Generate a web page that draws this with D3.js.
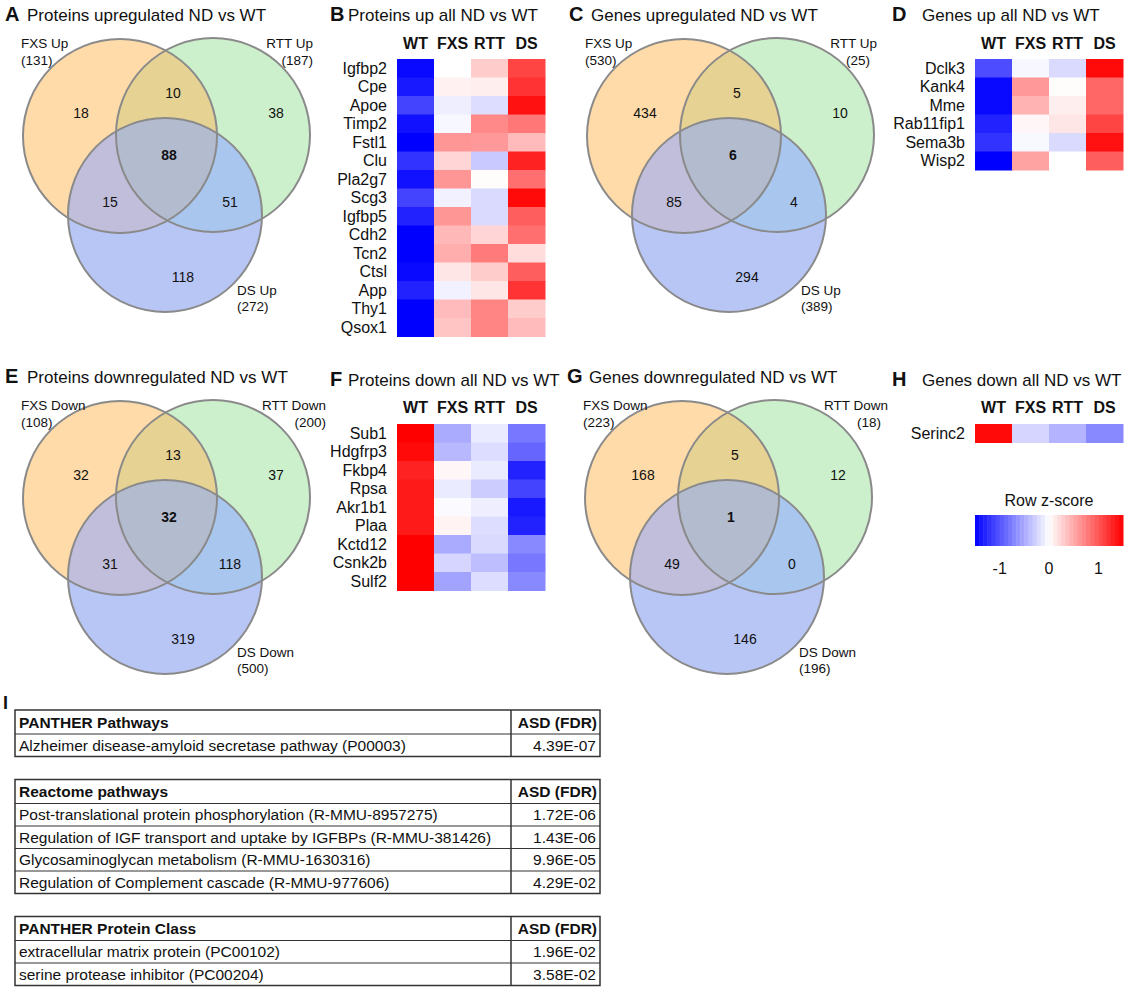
<!DOCTYPE html>
<html><head><meta charset="utf-8">
<script src="https://cdn.jsdelivr.net/npm/d3@7"></script>
<style>body{margin:0;background:#fff}svg text{font-family:Arial,"Liberation Sans",sans-serif;fill:#111}</style>
</head><body>
<svg id="fig" width="1128" height="989"></svg>
<script>
// ---------- DATA ----------
// Venn region order: [set1 only, 1∩2, set2 only, all three, 1∩3, 2∩3, set3 only]
const vennSetNames = ["FXS", "RTT", "DS"];
const protUpCounts = [18, 10, 38, 88, 15, 51, 118];
const protUpTotals = [131, 187, 272];
const geneUpCounts = [434, 5, 10, 6, 85, 4, 294];
const geneUpTotals = [530, 25, 389];
const protDownCounts = [32, 13, 37, 32, 31, 118, 319];
const protDownTotals = [108, 200, 500];
const geneDownCounts = [168, 5, 12, 1, 49, 0, 146];
const geneDownTotals = [223, 18, 196];

const heatCols = ["WT", "FXS", "RTT", "DS"];
const protUpGenes = ["Igfbp2","Cpe","Apoe","Timp2","Fstl1","Clu","Pla2g7","Scg3","Igfbp5","Cdh2","Tcn2","Ctsl","App","Thy1","Qsox1"];
const protUpZ = [
  [-1.45, 0.00, 0.30, 1.10],
  [-1.35, 0.08, 0.10, 1.20],
  [-1.10,-0.10,-0.20, 1.40],
  [-1.40,-0.05, 0.70, 0.80],
  [-1.50, 0.62, 0.60, 0.40],
  [-1.20, 0.25,-0.32, 1.30],
  [-1.40, 0.62, 0.02, 0.85],
  [-1.10,-0.08,-0.22, 1.45],
  [-1.30, 0.62,-0.22, 0.95],
  [-1.50, 0.42, 0.25, 0.85],
  [-1.50, 0.48, 0.78, 0.20],
  [-1.45, 0.15, 0.30, 0.95],
  [-1.30,-0.08, 0.15, 1.20],
  [-1.50, 0.40, 0.72, 0.30],
  [-1.50, 0.35, 0.72, 0.40]
];
const geneUpGenes = ["Dclk3","Kank4","Mme","Rab11fip1","Sema3b","Wisp2"];
const geneUpZ = [
  [-1.05,-0.05,-0.22, 1.45],
  [-1.45, 0.60, 0.02, 0.90],
  [-1.45, 0.45, 0.10, 0.90],
  [-1.30, 0.05, 0.15, 1.10],
  [-1.20,-0.04,-0.22, 1.40],
  [-1.50, 0.55, 0.00, 0.95]
];
const protDownGenes = ["Sub1","Hdgfrp3","Fkbp4","Rpsa","Akr1b1","Plaa","Kctd12","Csnk2b","Sulf2"];
const protDownZ = [
  [1.50,-0.50,-0.12,-0.80],
  [1.45,-0.42,-0.20,-0.90],
  [1.30, 0.05,-0.12,-1.30],
  [1.35,-0.12,-0.30,-1.10],
  [1.35,-0.03,-0.10,-1.35],
  [1.35, 0.07,-0.20,-1.30],
  [1.50,-0.50,-0.22,-0.70],
  [1.50,-0.25,-0.38,-0.80],
  [1.50,-0.55,-0.20,-0.70]
];
const geneDownGenes = ["Serinc2"];
const geneDownZ = [[1.45,-0.25,-0.45,-0.70]];
const legendTicks = [-1, 0, 1];

const tableHeaders = ["PANTHER Pathways", "Reactome pathways", "PANTHER Protein Class"];
const tableValueHeader = "ASD (FDR)";
const pantherTerms = ["Alzheimer disease-amyloid secretase pathway (P00003)"];
const pantherFDR = ["4.39E-07"];
const reactomeTerms = ["Post-translational protein phosphorylation (R-MMU-8957275)",
  "Regulation of IGF transport and uptake by IGFBPs (R-MMU-381426)",
  "Glycosaminoglycan metabolism (R-MMU-1630316)",
  "Regulation of Complement cascade (R-MMU-977606)"];
const reactomeFDR = ["1.72E-06", "1.43E-06", "9.96E-05", "4.29E-02"];
const classTerms = ["extracellular matrix protein (PC00102)", "serine protease inhibitor (PC00204)"];
const classFDR = ["1.96E-02", "3.58E-02"];

// ---------- DRAW ----------
const svg = d3.select("#fig");
const defs = svg.append("defs");

function panelTitle(g, letter, title, x, y, gap) {
  g.append("text").attr("x", x).attr("y", y).attr("font-size", 20).attr("font-weight", "bold").text(letter);
  g.append("text").attr("x", x + gap).attr("y", y).attr("font-size", 17).text(title);
}

const regionFill = ["#fedba8", "#e6d293", "#cdf0cc", "#b3bbcf", "#c0bedb", "#a8c6ee", "#b8c6f6"];
const setFill = ["#fedba8", "#cdf0cc", "#b8c6f6"];

function venn(ox, oy, id, letter, title, counts, totals, suffix, opt) {
  const g = svg.append("g").attr("transform", `translate(${ox},${oy})`);
  panelTitle(g, letter, title, 5, 21, 22);
  const r = 97;
  const cs = [[120, 136], [213, 135], [165, 215]];
  cs.forEach((c, i) => {
    defs.append("clipPath").attr("id", `${id}c${i}`).append("circle")
      .attr("cx", ox + c[0]).attr("cy", oy + c[1]).attr("r", r);
  });
  const ga = svg.append("g");
  const circ = (sel, i) => sel.append("circle").attr("cx", ox + cs[i][0]).attr("cy", oy + cs[i][1]).attr("r", r);
  cs.forEach((c, i) => circ(ga, i).attr("fill", setFill[i]));
  circ(ga, 1).attr("clip-path", `url(#${id}c0)`).attr("fill", regionFill[1]);
  circ(ga, 2).attr("clip-path", `url(#${id}c0)`).attr("fill", regionFill[4]);
  circ(ga, 2).attr("clip-path", `url(#${id}c1)`).attr("fill", regionFill[5]);
  circ(ga.append("g").attr("clip-path", `url(#${id}c0)`), 2).attr("clip-path", `url(#${id}c1)`).attr("fill", regionFill[3]);
  cs.forEach((c, i) => circ(ga, i).attr("fill", "none").attr("stroke", "#8a8a8a").attr("stroke-width", 2));
  const gt = svg.append("g").attr("transform", `translate(${ox},${oy})`);
  const pos = [[81, 118], [173, 98], [276, 118], [169, 160], [110, 207], [230, 207], [183, 282]];
  counts.forEach((v, i) => {
    gt.append("text").attr("x", pos[i][0]).attr("y", pos[i][1]).attr("text-anchor", "middle")
      .attr("font-size", 14).attr("font-weight", i === 3 ? "bold" : "normal").text(v);
  });
  const lab = (x, y, anchor, t) => gt.append("text").attr("x", x).attr("y", y).attr("text-anchor", anchor).attr("font-size", 13.5).text(t);
  lab(21, 48, "start", `${vennSetNames[0]} ${suffix}`);
  lab(21, 65, "start", `(${totals[0]})`);
  lab(opt.rx, 48, "end", `${vennSetNames[1]} ${suffix}`);
  lab(opt.rx2, 65, "end", `(${totals[1]})`);
  lab(237, 295, "start", `${vennSetNames[2]} ${suffix}`);
  lab(237, 311, "start", `(${totals[2]})`);
}

venn(0, 0, "va", "A", "Proteins upregulated ND vs WT", protUpCounts, protUpTotals, "Up", {rx: 313, rx2: 313});
venn(564, 0, "vc", "C", "Genes upregulated ND vs WT", geneUpCounts, geneUpTotals, "Up", {rx: 313, rx2: 306});
venn(0, 362, "ve", "E", "Proteins downregulated ND vs WT", protDownCounts, protDownTotals, "Down", {rx: 326, rx2: 326});
venn(562, 362, "vg", "G", "Genes downregulated ND vs WT", geneDownCounts, geneDownTotals, "Down", {rx: 326, rx2: 319});

const color = d3.scaleLinear().domain([-1.5, 0, 1.5]).range(["#0000ff", "#ffffff", "#ff0000"]).clamp(true);

function heatmap(x0, top, letter, title, genes, z, titleY, headY, lx0, tx0) {
  const g = svg.append("g");
  const x = d3.scaleBand().domain(heatCols).range([x0, x0 + 148]);
  const y = d3.scaleBand().domain(genes).range([top, top + 18.5 * genes.length]);
  g.append("text").attr("x", x0 - lx0).attr("y", titleY).attr("font-size", 20).attr("font-weight", "bold").text(letter);
  g.append("text").attr("x", x0 - tx0).attr("y", titleY).attr("font-size", 17).text(title);
  g.selectAll("text.h").data(heatCols).join("text").attr("class", "h")
    .attr("x", d => x(d) + x.bandwidth() / 2).attr("y", headY).attr("text-anchor", "middle")
    .attr("font-size", 16).attr("font-weight", "bold").text(d => d);
  genes.forEach((gn, i) => {
    g.selectAll(null).data(z[i]).join("rect")
      .attr("x", (d, j) => x(heatCols[j])).attr("y", y(gn))
      .attr("width", x.bandwidth() + 0.5).attr("height", y.bandwidth() + 0.5)
      .attr("fill", d => color(d));
    g.append("text").attr("x", x0 - 10).attr("y", y(gn) + y.bandwidth() / 2 + 5.5)
      .attr("text-anchor", "end").attr("font-size", 16).text(gn);
  });
}

heatmap(397, 59, "B", "Proteins up all ND vs WT", protUpGenes, protUpZ, 21, 49, 67, 49);
heatmap(975, 59, "D", "Genes up all ND vs WT", geneUpGenes, geneUpZ, 21, 49, 83, 53);
heatmap(397, 424, "F", "Proteins down all ND vs WT", protDownGenes, protDownZ, 386, 413, 67, 49);
heatmap(975, 424, "H", "Genes down all ND vs WT", geneDownGenes, geneDownZ, 386, 413, 83, 53);

// legend
const lg = svg.append("g");
const lx = d3.scaleLinear().domain([-1.5, 1.5]).range([975, 1123]);
const steps = 36;
const stepVals = d3.range(steps).map(i => -1.5 + (i + 0.5) * 3 / steps);
lg.selectAll("rect").data(stepVals).join("rect")
  .attr("x", d => lx(d - 1.5 / steps)).attr("y", 515)
  .attr("width", 148 / steps + 0.5).attr("height", 31).attr("fill", d => color(d));
lg.append("text").attr("x", 1049).attr("y", 506).attr("text-anchor", "middle").attr("font-size", 16).text("Row z-score");
lg.selectAll("text.t").data(legendTicks).join("text").attr("class", "t")
  .attr("x", d => lx(d)).attr("y", 574).attr("text-anchor", "middle").attr("font-size", 16).text(d => d);

// tables
svg.append("text").attr("x", 3).attr("y", 709).attr("font-size", 18).attr("font-weight", "bold").text("I");
const tL = 15, tD = 511, tR = 600, headH = 24, rowH = 22.5;
function table(top, header, terms, vals) {
  const g = svg.append("g");
  const n = terms.length;
  const h = headH + rowH * n;
  g.append("rect").attr("x", tL).attr("y", top).attr("width", tR - tL).attr("height", h)
    .attr("fill", "none").attr("stroke", "#333").attr("stroke-width", 1.5);
  g.append("line").attr("x1", tD).attr("x2", tD).attr("y1", top).attr("y2", top + h).attr("stroke", "#333").attr("stroke-width", 1.5);
  for (let i = 0; i < n; i++) {
    const yy = top + headH + rowH * i;
    g.append("line").attr("x1", tL).attr("x2", tR).attr("y1", yy).attr("y2", yy).attr("stroke", "#333").attr("stroke-width", 1.2);
  }
  g.append("text").attr("x", tL + 4).attr("y", top + headH / 2 + 5.5).attr("font-size", 15.5).attr("font-weight", "bold").text(header);
  g.append("text").attr("x", tR - 3).attr("y", top + headH / 2 + 5.5).attr("text-anchor", "end").attr("font-size", 15.5).attr("font-weight", "bold").text(tableValueHeader);
  terms.forEach((t, i) => {
    const yc = top + headH + rowH * i + rowH / 2 + 5.5;
    g.append("text").attr("x", tL + 4).attr("y", yc).attr("font-size", 15.5).text(t);
    g.append("text").attr("x", tR - 4).attr("y", yc).attr("text-anchor", "end").attr("font-size", 15.5).text(vals[i]);
  });
  return top + h;
}
let b1 = table(710, tableHeaders[0], pantherTerms, pantherFDR);
let b2 = table(b1 + 23, tableHeaders[1], reactomeTerms, reactomeFDR);
table(b2 + 23, tableHeaders[2], classTerms, classFDR);
</script>
</body></html>
